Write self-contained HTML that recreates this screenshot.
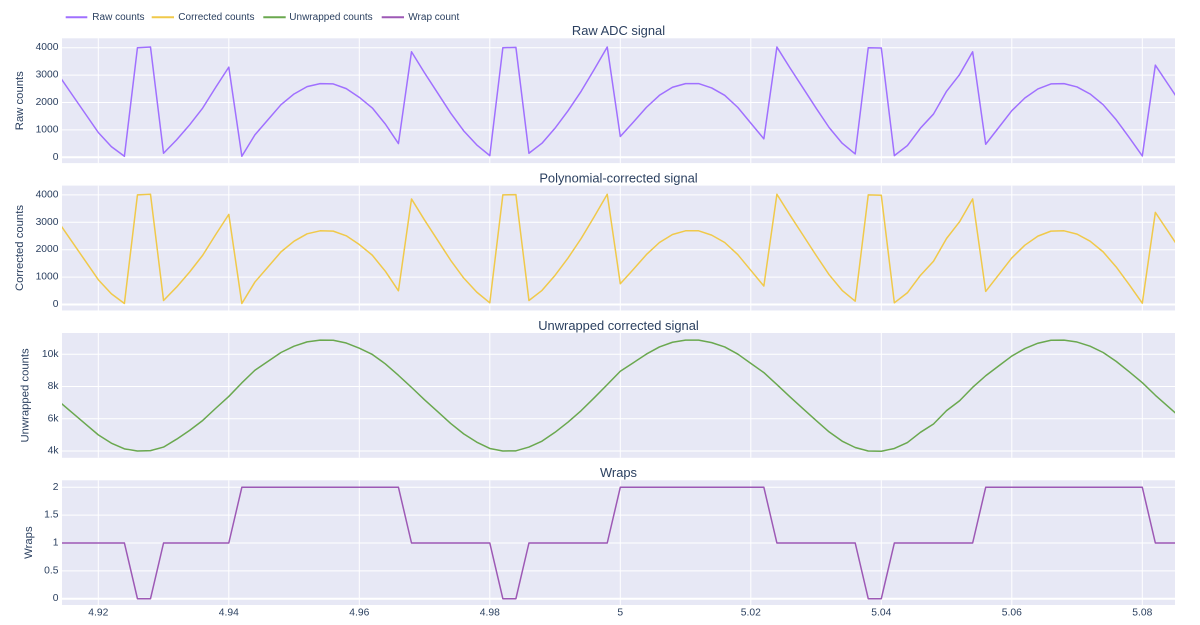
<!DOCTYPE html>
<html>
<head>
<meta charset="utf-8">
<style>
html,body{margin:0;padding:0;background:#fff;}
svg{display:block;}
text{font-family:"Liberation Sans",Arial,sans-serif;fill:#2a3f5f;}
.yt{font-size:10.3px;text-anchor:end;dominant-baseline:central;}
.xt{font-size:10.3px;text-anchor:middle;dominant-baseline:central;}
.at{font-size:11.3px;text-anchor:middle;dominant-baseline:central;}
.st{font-size:12.9px;text-anchor:middle;dominant-baseline:central;}
.lg{font-size:10px;dominant-baseline:central;}
.g{stroke:#fff;stroke-width:1;}
.z{stroke:#fff;stroke-width:2;}
.ln{fill:none;stroke-width:1.5;stroke-linejoin:round;}
</style>
</head>
<body>
<svg width="1200" height="625" viewBox="0 0 1200 625" xmlns="http://www.w3.org/2000/svg">
<defs>
<clipPath id="c1"><rect x="62" y="38.3" width="1113" height="124.8"/></clipPath>
<clipPath id="c2"><rect x="62" y="185.6" width="1113" height="124.9"/></clipPath>
<clipPath id="c3"><rect x="62" y="333" width="1113" height="124.8"/></clipPath>
<clipPath id="c4"><rect x="62" y="480.3" width="1113" height="124.7"/></clipPath>
</defs>
<rect width="1200" height="625" fill="#fff"/>

<!-- Legend -->
<line x1="65.7" y1="17.3" x2="87.3" y2="17.3" stroke="#a070ff" stroke-width="2"/>
<text class="lg" x="92.3" y="17.3">Raw counts</text>
<line x1="151.7" y1="17.3" x2="174" y2="17.3" stroke="#f0c94a" stroke-width="2"/>
<text class="lg" x="178.3" y="17.3">Corrected counts</text>
<line x1="263.3" y1="17.3" x2="285.7" y2="17.3" stroke="#6aa84f" stroke-width="2"/>
<text class="lg" x="289.3" y="17.3">Unwrapped counts</text>
<line x1="381.7" y1="17.3" x2="404" y2="17.3" stroke="#9d59b5" stroke-width="2"/>
<text class="lg" x="408.3" y="17.3">Wrap count</text>

<!-- Panel backgrounds -->
<rect x="62" y="38.3" width="1113" height="124.8" fill="#e7e8f5"/>
<rect x="62" y="185.6" width="1113" height="124.9" fill="#e7e8f5"/>
<rect x="62" y="333" width="1113" height="124.8" fill="#e7e8f5"/>
<rect x="62" y="480.3" width="1113" height="124.7" fill="#e7e8f5"/>

<!-- Vertical gridlines -->
<g class="g">
<path d="M98.3 38.3V163.1M228.8 38.3V163.1M359.3 38.3V163.1M489.8 38.3V163.1M620.3 38.3V163.1M750.8 38.3V163.1M881.3 38.3V163.1M1011.8 38.3V163.1M1142.3 38.3V163.1"/>
<path d="M98.3 185.6V310.5M228.8 185.6V310.5M359.3 185.6V310.5M489.8 185.6V310.5M620.3 185.6V310.5M750.8 185.6V310.5M881.3 185.6V310.5M1011.8 185.6V310.5M1142.3 185.6V310.5"/>
<path d="M98.3 333V457.8M228.8 333V457.8M359.3 333V457.8M489.8 333V457.8M620.3 333V457.8M750.8 333V457.8M881.3 333V457.8M1011.8 333V457.8M1142.3 333V457.8"/>
<path d="M98.3 480.3V605M228.8 480.3V605M359.3 480.3V605M489.8 480.3V605M620.3 480.3V605M750.8 480.3V605M881.3 480.3V605M1011.8 480.3V605M1142.3 480.3V605"/>
<!-- horizontal -->
<path d="M62 129.9H1175M62 102.5H1175M62 75.1H1175M62 47.7H1175"/>
<path d="M62 277.1H1175M62 249.7H1175M62 222.3H1175M62 194.9H1175"/>
<path d="M62 451H1175M62 418.8H1175M62 386.5H1175M62 354.3H1175"/>
<path d="M62 570.85H1175M62 543H1175M62 515.15H1175M62 487.3H1175"/>
</g>
<g class="z">
<path d="M62 157.3H1175"/>
<path d="M62 304.5H1175"/>
<path d="M62 598.7H1175"/>
</g>

<!-- Panel 1: Raw -->
<g clip-path="url(#c1)">
<g transform="translate(59.15,157.3) scale(13.05,-0.0274)">
<polyline class="ln" vector-effect="non-scaling-stroke" stroke="#a070ff" points="0,2972 1,2283 2,1594 3,905 4,391 5,37 6,4000 7,4024 8,147 9,636 10,1186 11,1798 12,2556 13,3290 14,37 15,819 16,1370 17,1920 18,2311 19,2580 20,2690 21,2678 22,2507 23,2189 24,1798 25,1211 26,501 27,3852 28,3082 29,2348 30,1614 31,966 32,452 33,61 34,4000 35,4011 36,147 37,514 38,1064 39,1700 40,2409 41,3204 42,4024 43,758 44,1284 45,1822 46,2263 47,2556 48,2690 49,2690 50,2532 51,2263 52,1822 53,1247 54,673 55,4024 56,3265 57,2532 58,1798 59,1088 60,514 61,122 62,4000 63,3987 64,61 65,428 66,1064 67,1578 68,2409 69,3021 70,3852 71,477 72,1088 73,1700 74,2165 75,2495 76,2678 77,2690 78,2568 79,2311 80,1920 81,1370 82,722 83,49 84,3363 85,2648 86,1933"/>
</g>
</g>

<!-- Panel 2: Corrected -->
<g clip-path="url(#c2)">
<g transform="translate(59.15,304.5) scale(13.05,-0.0274)">
<polyline class="ln" vector-effect="non-scaling-stroke" stroke="#f0c94a" points="0,2972 1,2283 2,1594 3,905 4,391 5,37 6,4000 7,4024 8,147 9,636 10,1186 11,1798 12,2556 13,3290 14,37 15,819 16,1370 17,1920 18,2311 19,2580 20,2690 21,2678 22,2507 23,2189 24,1798 25,1211 26,501 27,3852 28,3082 29,2348 30,1614 31,966 32,452 33,61 34,4000 35,4011 36,147 37,514 38,1064 39,1700 40,2409 41,3204 42,4024 43,758 44,1284 45,1822 46,2263 47,2556 48,2690 49,2690 50,2532 51,2263 52,1822 53,1247 54,673 55,4024 56,3265 57,2532 58,1798 59,1088 60,514 61,122 62,4000 63,3987 64,61 65,428 66,1064 67,1578 68,2409 69,3021 70,3852 71,477 72,1088 73,1700 74,2165 75,2495 76,2678 77,2690 78,2568 79,2311 80,1920 81,1370 82,722 83,49 84,3363 85,2648 86,1933"/>
</g>
</g>

<!-- Panel 3: Unwrapped -->
<g clip-path="url(#c3)">
<g transform="translate(59.15,515.47) scale(13.05,-0.016117)">
<polyline class="ln" vector-effect="non-scaling-stroke" stroke="#6aa84f" points="0,7068 1,6379 2,5690 3,5001 4,4487 5,4133 6,4000 7,4024 8,4243 9,4732 10,5282 11,5894 12,6652 13,7386 14,8229 15,9011 16,9562 17,10112 18,10503 19,10772 20,10882 21,10870 22,10699 23,10381 24,9990 25,9403 26,8693 27,7948 28,7178 29,6444 30,5710 31,5062 32,4548 33,4157 34,4000 35,4011 36,4243 37,4610 38,5160 39,5796 40,6505 41,7300 42,8120 43,8950 44,9476 45,10014 46,10455 47,10748 48,10882 49,10882 50,10724 51,10455 52,10014 53,9439 54,8865 55,8120 56,7361 57,6628 58,5894 59,5184 60,4610 61,4218 62,4000 63,3987 64,4157 65,4524 66,5160 67,5674 68,6505 69,7117 70,7948 71,8669 72,9280 73,9892 74,10357 75,10687 76,10870 77,10882 78,10760 79,10503 80,10112 81,9562 82,8914 83,8241 84,7459 85,6744 86,6029"/>
</g>
</g>

<!-- Panel 4: Wraps -->
<g clip-path="url(#c4)">
<g transform="translate(59.15,598.7) scale(13.05,-55.7)">
<polyline class="ln" vector-effect="non-scaling-stroke" stroke="#9d59b5" points="0,1 5,1 6,0 7,0 8,1 13,1 14,2 26,2 27,1 33,1 34,0 35,0 36,1 42,1 43,2 54,2 55,1 61,1 62,0 63,0 64,1 70,1 71,2 83,2 84,1 86,1"/>
</g>
</g>

<!-- Subplot titles -->
<text class="st" x="618.5" y="30.7">Raw ADC signal</text>
<text class="st" x="618.5" y="178">Polynomial-corrected signal</text>
<text class="st" x="618.5" y="325.3">Unwrapped corrected signal</text>
<text class="st" x="618.5" y="472.6">Wraps</text>

<!-- Y tick labels -->
<text class="yt" x="58.5" y="157.3">0</text>
<text class="yt" x="58.5" y="129.9">1000</text>
<text class="yt" x="58.5" y="102.5">2000</text>
<text class="yt" x="58.5" y="75.1">3000</text>
<text class="yt" x="58.5" y="47.7">4000</text>

<text class="yt" x="58.5" y="304.5">0</text>
<text class="yt" x="58.5" y="277.1">1000</text>
<text class="yt" x="58.5" y="249.7">2000</text>
<text class="yt" x="58.5" y="222.3">3000</text>
<text class="yt" x="58.5" y="194.9">4000</text>

<text class="yt" x="58.5" y="451">4k</text>
<text class="yt" x="58.5" y="418.8">6k</text>
<text class="yt" x="58.5" y="386.5">8k</text>
<text class="yt" x="58.5" y="354.3">10k</text>

<text class="yt" x="58.5" y="598.7">0</text>
<text class="yt" x="58.5" y="570.85">0.5</text>
<text class="yt" x="58.5" y="543">1</text>
<text class="yt" x="58.5" y="515.15">1.5</text>
<text class="yt" x="58.5" y="487.3">2</text>

<!-- X tick labels -->
<text class="xt" x="98.3" y="613">4.92</text>
<text class="xt" x="228.8" y="613">4.94</text>
<text class="xt" x="359.3" y="613">4.96</text>
<text class="xt" x="489.8" y="613">4.98</text>
<text class="xt" x="620.3" y="613">5</text>
<text class="xt" x="750.8" y="613">5.02</text>
<text class="xt" x="881.3" y="613">5.04</text>
<text class="xt" x="1011.8" y="613">5.06</text>
<text class="xt" x="1142.3" y="613">5.08</text>

<!-- Axis titles -->
<text class="at" transform="translate(20,100.7) rotate(-90)">Raw counts</text>
<text class="at" transform="translate(20,248) rotate(-90)">Corrected counts</text>
<text class="at" transform="translate(25.5,395.4) rotate(-90)">Unwrapped counts</text>
<text class="at" transform="translate(29,542.6) rotate(-90)">Wraps</text>
</svg>
</body>
</html>
